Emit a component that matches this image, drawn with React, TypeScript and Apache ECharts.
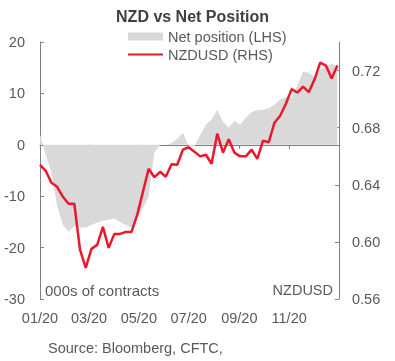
import React, { useEffect, useRef } from "react";
import * as echarts from "echarts";

const weekDates = [
  "2020-01-01", "2020-01-08", "2020-01-15", "2020-01-22", "2020-01-29",
  "2020-02-05", "2020-02-12", "2020-02-19", "2020-02-26",
  "2020-03-04", "2020-03-11", "2020-03-18", "2020-03-25",
  "2020-04-01", "2020-04-08", "2020-04-15", "2020-04-22", "2020-04-29",
  "2020-05-06", "2020-05-13", "2020-05-20", "2020-05-27",
  "2020-06-03", "2020-06-10", "2020-06-17", "2020-06-24",
  "2020-07-01", "2020-07-08", "2020-07-15", "2020-07-22", "2020-07-29",
  "2020-08-05", "2020-08-12", "2020-08-19", "2020-08-26",
  "2020-09-02", "2020-09-09", "2020-09-16", "2020-09-23", "2020-09-30",
  "2020-10-07", "2020-10-14", "2020-10-21", "2020-10-28",
  "2020-11-04", "2020-11-11", "2020-11-18", "2020-11-25",
  "2020-12-02", "2020-12-09", "2020-12-16", "2020-12-23", "2020-12-30",
];

const netPosition = [
  2.0, -2.0, -5.4, -11.9, -15.6, -16.9, -15.8, -16.1, -16.1, -15.6,
  -15.1, -14.8, -14.6, -14.3, -15.0, -15.6, -16.1, -14.2, -12.3, -10.0,
  -1.5, 0.0, 0.0, 0.3, 1.2, 2.3, -0.3, -0.3, 1.8, 3.9,
  4.9, 6.8, 4.5, 3.3, 4.7, 3.9, 5.3, 6.4, 6.7, 6.8,
  7.1, 7.8, 8.8, 9.3, 9.1, 11.5, 14.2, 14.0, 13.2, 14.6,
  15.2, 15.8, 15.2,
];

const nzdusd = [
  0.654, 0.6498, 0.6414, 0.6386, 0.6316, 0.6267, 0.6267, 0.5944, 0.5818, 0.5951,
  0.5979, 0.6105, 0.5958, 0.6056, 0.6056, 0.607, 0.607, 0.6189, 0.635, 0.6512,
  0.6453, 0.6491, 0.6456, 0.6544, 0.654, 0.6646, 0.6663, 0.6632, 0.6599, 0.661,
  0.6547, 0.6758, 0.6625, 0.6719, 0.6625, 0.6599, 0.6599, 0.6646, 0.6582, 0.6709,
  0.6698, 0.6835, 0.6884, 0.6968, 0.707, 0.7046, 0.7088, 0.7049, 0.7137, 0.7256,
  0.7235, 0.7144, 0.7235,
];

const tickDates = ["2020-01-01", "2020-03-01", "2020-05-01", "2020-07-01", "2020-09-01", "2020-11-01"];
const tickLabels = ["01/20", "03/20", "05/20", "07/20", "09/20", "11/20"];
const rightTicks = [0.56, 0.6, 0.64, 0.68, 0.72];

const startDate = "2020-01-01";
const endDate = "2021-01-01";

const FONT = "'Liberation Sans', Arial, sans-serif";
const TEXT = "#595959";
const AXIS = "#808080";
const RED = "#e8192c";
const GRAY = "#d9d9d9";

const dayOf = (d: string) => (Date.parse(d) - Date.parse(startDate)) / 86400000;

export default function App() {
  const ref = useRef<HTMLDivElement>(null);
  useEffect(() => {
    if (!ref.current) return;
    const chart = echarts.init(ref.current, null, { renderer: "svg" });
    const tickDays = tickDates.map(dayOf);
    const xMax = dayOf(endDate);
    const labelFor = (v: number) => {
      const i = tickDays.findIndex((d) => Math.abs(d - v) < 0.5);
      return i >= 0 ? tickLabels[i] : "";
    };
    chart.setOption({
      animation: false,
      textStyle: { fontFamily: FONT },
      grid: { left: 40, right: 56, top: 42, bottom: 62 },
      legend: {
        orient: "vertical",
        left: 127,
        top: 29,
        padding: 0,
        itemWidth: 35,
        itemHeight: 8,
        itemGap: 3,
        textStyle: { fontFamily: FONT, fontSize: 14.5, color: TEXT },
        data: [
          { name: "Net position (LHS)", icon: "rect" },
          { name: "NZDUSD (RHS)", itemStyle: { opacity: 0 } },
        ],
      },
      graphic: [
        {
          type: "text",
          x: 192.5,
          y: 16,
          style: { text: "NZD vs Net Position", font: `bold 16px ${FONT}`, fill: "#404040", textAlign: "center", textVerticalAlign: "middle" },
        },
        {
          type: "text",
          x: 45,
          y: 290,
          style: { text: "000s of contracts", font: `15px ${FONT}`, fill: TEXT, textAlign: "left", textVerticalAlign: "middle" },
        },
        {
          type: "text",
          x: 333,
          y: 290,
          style: { text: "NZDUSD", font: `14.5px ${FONT}`, fill: TEXT, textAlign: "right", textVerticalAlign: "middle" },
        },
        {
          type: "text",
          x: 48,
          y: 348,
          style: { text: "Source: Bloomberg, CFTC,", font: `14.5px ${FONT}`, fill: TEXT, textAlign: "left", textVerticalAlign: "middle" },
        },
      ],
      xAxis: [
        {
          type: "value",
          min: 0,
          max: xMax,
          position: "top",
          axisLine: { show: true, onZero: true, lineStyle: { color: AXIS, width: 1 } },
          axisTick: { show: true, inside: true, length: 4, customValues: tickDays, lineStyle: { color: AXIS } },
          axisLabel: { show: false },
          splitLine: { show: false },
        },
        {
          type: "value",
          min: 0,
          max: xMax,
          position: "bottom",
          axisLine: { show: false, onZero: false },
          axisTick: { show: false },
          axisLabel: {
            show: true,
            customValues: tickDays,
            formatter: labelFor,
            margin: 11,
            fontSize: 14.5,
            color: TEXT,
            fontFamily: FONT,
          },
          splitLine: { show: false },
        },
      ],
      yAxis: [
        {
          type: "value",
          min: -30,
          max: 20,
          interval: 10,
          position: "left",
          axisLine: { show: true, onZero: false, lineStyle: { color: AXIS, width: 1 } },
          axisTick: { show: true, inside: true, length: 4, lineStyle: { color: AXIS } },
          axisLabel: { margin: 15, fontSize: 14.5, color: TEXT, fontFamily: FONT },
          splitLine: { show: false },
        },
        {
          type: "value",
          min: 0.56,
          max: 0.74,
          position: "right",
          axisLine: { show: true, onZero: false, lineStyle: { color: AXIS, width: 1 } },
          axisTick: { show: true, inside: true, length: 4, customValues: rightTicks, lineStyle: { color: AXIS } },
          axisLabel: {
            customValues: rightTicks,
            formatter: (v: number) => v.toFixed(2),
            margin: 13,
            fontSize: 14.5,
            color: TEXT,
            fontFamily: FONT,
          },
          splitLine: { show: false },
        },
      ],
      series: [
        {
          name: "Net position (LHS)",
          type: "line",
          xAxisIndex: 0,
          yAxisIndex: 0,
          symbol: "none",
          color: GRAY,
          itemStyle: { color: GRAY },
          lineStyle: { width: 0, color: GRAY },
          areaStyle: { color: GRAY, opacity: 1 },
          data: weekDates.map((d, i) => [dayOf(d), netPosition[i]]),
          z: 1,
        },
        {
          name: "NZDUSD (RHS)",
          type: "line",
          xAxisIndex: 0,
          yAxisIndex: 1,
          symbol: "none",
          color: RED,
          lineStyle: { width: 2.5, color: RED },
          data: weekDates.map((d, i) => [dayOf(d), nzdusd[i]]),
          z: 3,
        },
      ],
    });
    return () => chart.dispose();
  }, []);
  return <div ref={ref} style={{ position: "fixed", left: 0, top: 0, width: 395, height: 361 }} />;
}
